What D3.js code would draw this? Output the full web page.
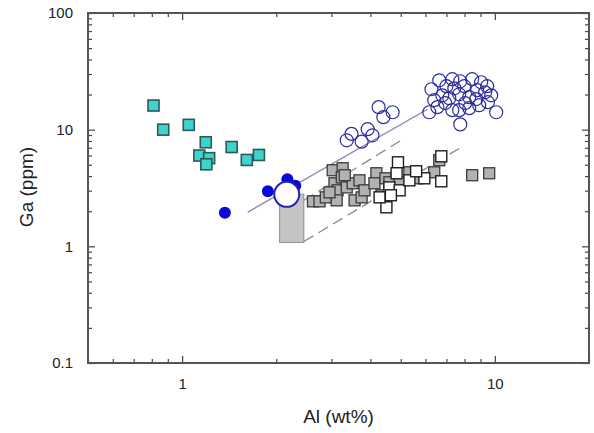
<!DOCTYPE html>
<html>
<head>
<meta charset="utf-8">
<script src="https://cdn.jsdelivr.net/npm/d3@7"></script>
<style>
  body { margin: 0; background: #fff; }
  text { font-family: "Liberation Sans", Arial, sans-serif; fill: #222; }
</style>
</head>
<body>
<svg id="svg1"></svg>
<script>
// [Al wt%, Ga ppm]
const cyanSquares = [
  [0.81, 16.1], [0.87, 10.0], [1.05, 11.0], [1.19, 7.8], [1.135, 6.0],
  [1.22, 5.7], [1.195, 5.05], [1.44, 7.1], [1.61, 5.5], [1.76, 6.07]
];
const blueDots = [[1.37, 1.94], [1.88, 2.96], [2.17, 3.75], [2.3, 3.3]];
const bigCircle = [[2.16, 2.79]];
const grayBox = {al: [2.05, 2.45], ga: [1.08, 2.79]};
const openCircles = [
  [3.36, 8.11], [3.48, 9.2], [3.75, 7.9], [3.92, 10.1], [4.06, 8.95],
  [4.25, 15.6], [4.40, 12.8], [4.71, 14.1],
  [6.17, 14.1], [6.27, 22.2], [6.64, 26.5], [7.0, 23.6], [7.31, 27.1],
  [7.75, 26.0], [8.46, 27.1], [9.04, 25.5], [9.45, 23.6], [6.79, 19.7],
  [7.69, 20.1], [8.28, 19.0], [8.72, 18.3], [9.31, 20.9], [9.5, 17.2],
  [6.55, 15.6], [6.94, 16.9], [7.69, 14.7], [8.28, 15.3], [8.91, 16.2],
  [10.1, 14.1], [7.75, 11.1], [6.40, 17.9], [7.15, 18.6], [7.42, 22.6],
  [7.98, 23.6], [8.78, 21.8], [9.73, 19.7], [7.31, 14.7], [8.04, 16.9]
];
const graySquares = [
  [2.62, 2.43], [2.75, 2.43], [2.88, 2.63], [3.03, 4.49], [3.26, 4.67],
  [3.07, 3.47], [3.24, 3.90], [3.14, 3.02], [3.36, 3.20], [3.51, 3.47],
  [3.12, 2.48], [3.56, 2.48], [3.75, 2.63], [2.96, 2.90], [3.31, 4.07],
  [3.69, 3.68], [3.83, 3.02], [4.18, 4.23], [4.12, 3.47], [4.34, 2.74],
  [4.47, 3.83], [4.60, 3.54], [4.96, 3.54], [5.33, 4.31], [5.65, 3.83],
  [6.40, 4.31], [6.64, 5.47], [8.46, 4.07], [9.59, 4.23]
];
const whiteSquares = [
  [4.90, 5.25], [4.85, 4.23], [4.50, 2.16], [4.60, 3.20], [4.96, 3.02],
  [4.28, 2.63], [5.95, 3.83], [6.74, 3.61], [6.74, 5.91], [5.33, 3.68],
  [5.60, 4.40], [4.65, 2.74]
];
const solidLine = [[1.62, 1.96], [6.09, 14.96]];
const dashedLines = [
  [[2.45, 2.48], [5.14, 8.44]],
  [[2.45, 1.10], [7.81, 7.07]]
];
const xMajor = [1, 10];
const yMajor = [0.1, 1, 10, 100];

const WIDTH = 594;
const HEIGHT = 433;
const PLOT = {left: 88, right: 589, top: 13, bottom: 363};

const x = d3.scaleLog().domain([0.5, 20]).range([PLOT.left, PLOT.right]);
const y = d3.scaleLog().domain([0.1, 100]).range([PLOT.bottom, PLOT.top]);

const svg = d3.select('#svg1').attr('width', WIDTH).attr('height', HEIGHT);

// minor ticks for a log axis
function minors(lo, hi) {
  const out = [];
  for (let p = Math.floor(Math.log10(lo)); p <= Math.ceil(Math.log10(hi)); p++) {
    for (let m = 1; m <= 9; m++) {
      const v = m * Math.pow(10, p);
      if (v >= lo && v <= hi) out.push(v);
    }
  }
  return out;
}
const xMinor = minors(0.5, 20).filter(v => !xMajor.includes(v));
const yMinor = minors(0.1, 100).filter(v => !yMajor.includes(v));

const fmt = d => (d < 1 ? d.toFixed(1) : String(d));

function drawAxis(axisFn, scale, transform, major, minor, labels) {
  const gMin = svg.append('g').attr('transform', transform)
    .call(axisFn(scale).tickValues(minor).tickSizeInner(-4).tickSizeOuter(0).tickFormat(''));
  const gMaj = svg.append('g').attr('transform', transform)
    .call(axisFn(scale).tickValues(major).tickSizeInner(-7).tickSizeOuter(0)
      .tickPadding(labels ? 15 : 0).tickFormat(labels ? fmt : ''));
  [gMin, gMaj].forEach(g => {
    g.select('.domain').remove();
    g.selectAll('line').attr('stroke', '#444').attr('stroke-width', 1.2);
    g.selectAll('text').style('font-size', '15px').attr('fill', '#222');
  });
}

drawAxis(d3.axisBottom, x, `translate(0,${PLOT.bottom})`, xMajor, xMinor, true);
drawAxis(d3.axisTop, x, `translate(0,${PLOT.top})`, xMajor, xMinor, false);
drawAxis(d3.axisLeft, y, `translate(${PLOT.left},0)`, yMajor, yMinor, true);
drawAxis(d3.axisRight, y, `translate(${PLOT.right},0)`, yMajor, yMinor, false);

svg.append('rect')
  .attr('x', PLOT.left).attr('y', PLOT.top)
  .attr('width', PLOT.right - PLOT.left).attr('height', PLOT.bottom - PLOT.top)
  .attr('fill', 'none').attr('stroke', '#555').attr('stroke-width', 2);

const line = d3.line().x(d => x(d[0])).y(d => y(d[1]));

svg.selectAll('.dash')
  .data(dashedLines)
  .enter()
  .append('path')
  .attr('d', line)
  .attr('fill', 'none')
  .attr('stroke', '#8a8a8a')
  .attr('stroke-width', 1.3)
  .attr('stroke-dasharray', '11,6');

svg.append('path')
  .attr('d', line(solidLine))
  .attr('fill', 'none')
  .attr('stroke', '#8a7fae')
  .attr('stroke-width', 1.3);

svg.append('rect')
  .attr('x', x(grayBox.al[0]))
  .attr('y', y(grayBox.ga[1]))
  .attr('width', x(grayBox.al[1]) - x(grayBox.al[0]))
  .attr('height', y(grayBox.ga[0]) - y(grayBox.ga[1]))
  .attr('fill', '#c4c4c4')
  .attr('stroke', '#8c8c8c')
  .attr('stroke-width', 1);

function squares(data, size, fill, stroke, sw) {
  svg.append('g')
    .selectAll('rect')
    .data(data)
    .enter()
    .append('rect')
    .attr('x', d => x(d[0]) - size / 2)
    .attr('y', d => y(d[1]) - size / 2)
    .attr('width', size)
    .attr('height', size)
    .attr('fill', fill)
    .attr('stroke', stroke)
    .attr('stroke-width', sw);
}

squares(graySquares, 11, '#b2b2b2', '#3a3a3a', 1.3);
squares(whiteSquares, 11, '#ffffff', '#1e1e1e', 1.4);
squares(cyanSquares, 11, '#3fd3cb', '#2b5a58', 1.6);

svg.append('g')
  .selectAll('circle')
  .data(openCircles)
  .enter()
  .append('circle')
  .attr('cx', d => x(d[0]))
  .attr('cy', d => y(d[1]))
  .attr('r', 6.5)
  .attr('fill', 'none')
  .attr('stroke', '#2d2d9c')
  .attr('stroke-width', 1.2);

svg.append('g')
  .selectAll('circle')
  .data(blueDots)
  .enter()
  .append('circle')
  .attr('cx', d => x(d[0]))
  .attr('cy', d => y(d[1]))
  .attr('r', 6)
  .attr('fill', '#0a0ad8');

svg.append('g')
  .selectAll('circle')
  .data(bigCircle)
  .enter()
  .append('circle')
  .attr('cx', d => x(d[0]))
  .attr('cy', d => y(d[1]))
  .attr('r', 12.5)
  .attr('fill', '#ffffff')
  .attr('stroke', '#2323b0')
  .attr('stroke-width', 2);

svg.append('text')
  .attr('x', (PLOT.left + PLOT.right) / 2)
  .attr('y', 423)
  .attr('text-anchor', 'middle')
  .style('font-size', '19px')
  .text('Al (wt%)');

svg.append('text')
  .attr('transform', `translate(33,187) rotate(-90)`)
  .attr('text-anchor', 'middle')
  .style('font-size', '19px')
  .text('Ga (ppm)');
</script>
</body>
</html>
